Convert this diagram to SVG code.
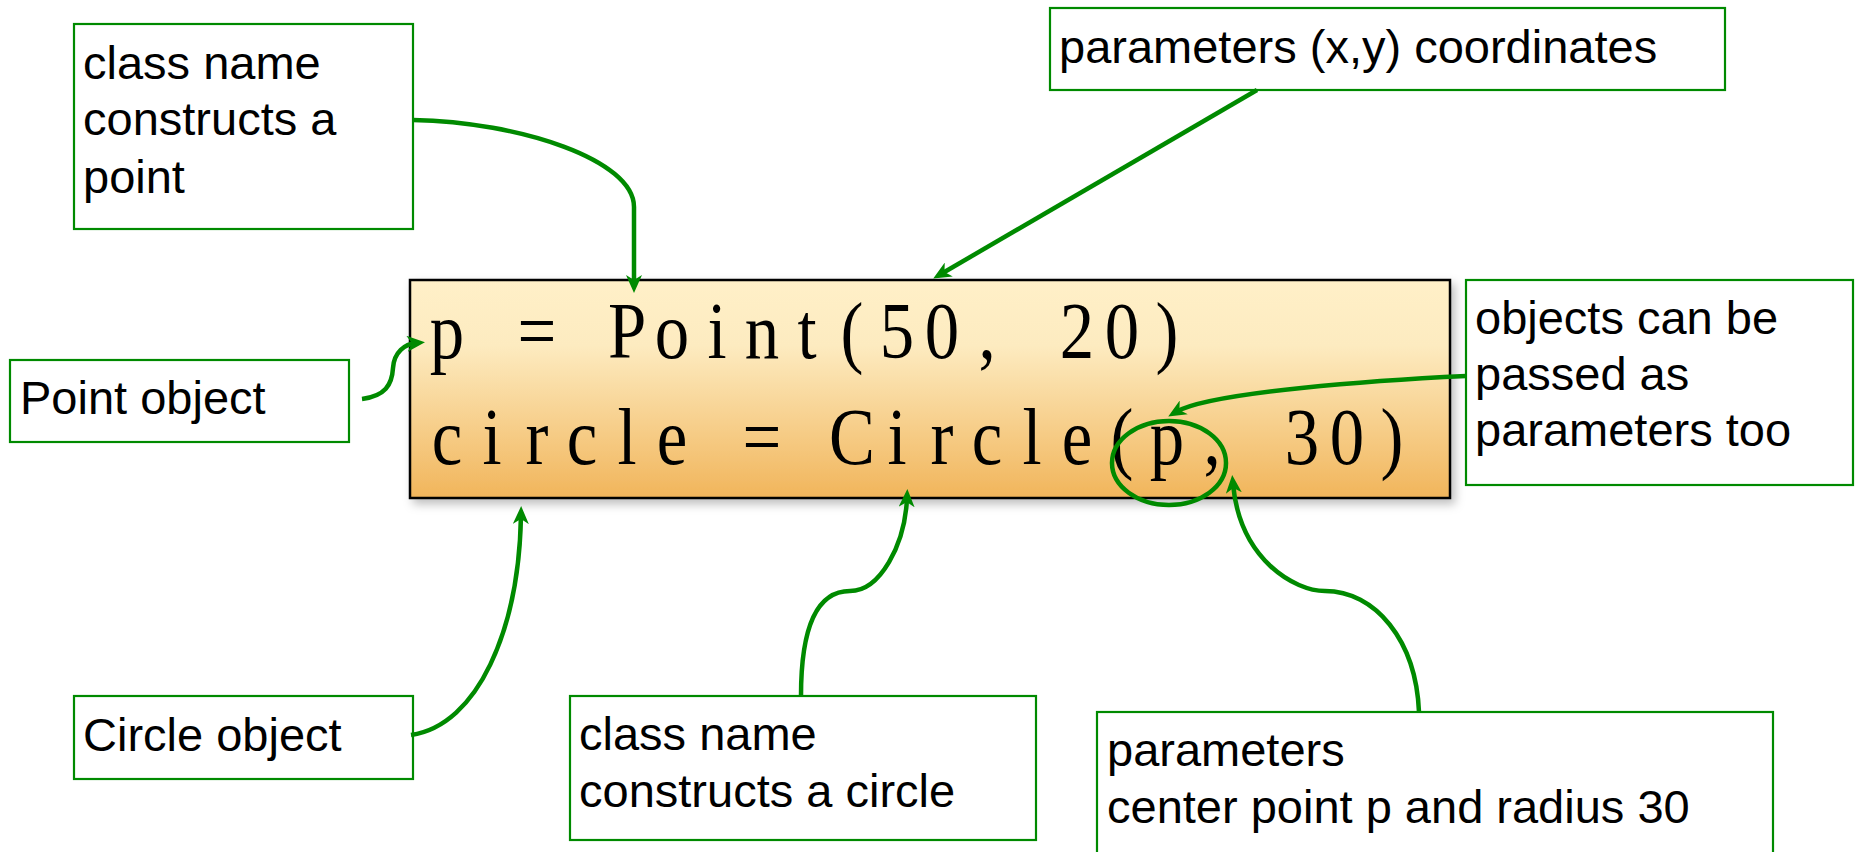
<svg xmlns="http://www.w3.org/2000/svg" width="1856" height="852" viewBox="0 0 1856 852">
<defs>
<linearGradient id="codeFill" x1="0" y1="0" x2="0" y2="1">
<stop offset="0" stop-color="#FFF0C8"/>
<stop offset="0.3" stop-color="#FDEBC0"/>
<stop offset="1" stop-color="#F1B55B"/>
</linearGradient>
<filter id="shadow" x="-5%" y="-10%" width="115%" height="130%">
<feDropShadow dx="4" dy="5" stdDeviation="5" flood-color="#000" flood-opacity="0.25"/>
</filter>
<marker id="arr" viewBox="0 0 18 16" refX="9" refY="8" markerWidth="18" markerHeight="16" markerUnits="userSpaceOnUse" orient="auto">
<path d="M0,0 L18,8 L0,16 L5,8 z" fill="#008A00"/>
</marker>
</defs>
<style>
.box{fill:#fff;stroke:#008A00;stroke-width:2.2}
.lbl{font-family:"Liberation Sans",Arial,sans-serif;font-size:47px;fill:#000}
.code{font-family:"Liberation Serif","Times New Roman",serif;font-size:80px;fill:#000;text-anchor:middle}
.conn{fill:none;stroke:#008A00;stroke-width:4.5;marker-end:url(#arr)}
</style>

<g id="code">
<rect x="410" y="280" width="1040" height="218" fill="url(#codeFill)" stroke="#000" stroke-width="2.5" filter="url(#shadow)"/>
<text class="code" transform="translate(0,358) scale(0.86,1)" x="519.8 572.1 624.4 676.7 729.1 781.4 833.7 886 938.4 990.7 1043 1095.3 1147.7 1200 1252.3 1304.7 1357">p = Point(50, 20)</text>
<text class="code" transform="translate(0,464) scale(0.86,1)" x="519.8 572.1 624.4 676.7 729.1 781.4 833.7 886 938.4 990.7 1043 1095.3 1147.7 1200 1252.3 1304.7 1357 1409.3 1461.6 1513.9 1566.3 1618.6">circle = Circle(p, 30)</text>
<ellipse cx="1169" cy="463" rx="57" ry="42" fill="none" stroke="#008A00" stroke-width="4.5"/>
</g>

<g id="n-classpoint">
<rect class="box" x="74" y="24" width="339" height="205"/>
<text class="lbl" x="83" y="79">class name</text>
<text class="lbl" x="83" y="135">constructs a</text>
<text class="lbl" x="83" y="193">point</text>
</g>

<g id="n-params-xy">
<rect class="box" x="1050" y="8" width="675" height="82"/>
<text class="lbl" x="1059" y="63">parameters (x,y) coordinates</text>
</g>

<g id="n-pointobj">
<rect class="box" x="10" y="360" width="339" height="82"/>
<text class="lbl" x="20" y="414">Point object</text>
</g>

<g id="n-objects">
<rect class="box" x="1466" y="280" width="387" height="205"/>
<text class="lbl" x="1475" y="334">objects can be</text>
<text class="lbl" x="1475" y="390">passed as</text>
<text class="lbl" x="1475" y="446">parameters too</text>
</g>

<g id="n-circleobj">
<rect class="box" x="74" y="696" width="339" height="83"/>
<text class="lbl" x="83" y="751">Circle object</text>
</g>

<g id="n-classcircle">
<rect class="box" x="570" y="696" width="466" height="144"/>
<text class="lbl" x="579" y="750">class name</text>
<text class="lbl" x="579" y="807">constructs a circle</text>
</g>

<g id="n-params-center">
<rect class="box" x="1097" y="712" width="676" height="160"/>
<text class="lbl" x="1107" y="766">parameters</text>
<text class="lbl" x="1107" y="823">center point p and radius 30</text>
</g>

<g id="connectors">
<path class="conn" d="M413,120 C520,122 634,160 634,207 L634,284"/>
<path class="conn" d="M1257,90 L941,274"/>
<path class="conn" d="M362,399 C385,396 392,385 393,368 C394,352 405,344 416,343"/>
<path class="conn" d="M411,735 C478,725 519,630 521,515"/>
<path class="conn" d="M1466,376 C1380,380 1210,392 1176,412"/>
<path class="conn" d="M801,696 C801,630 815,591 850,591 C880,591 905,545 907,498"/>
<path class="conn" d="M1419,712 C1416,640 1375,591 1325,591 C1295,591 1240,560 1233,484"/>
</g>
</svg>
